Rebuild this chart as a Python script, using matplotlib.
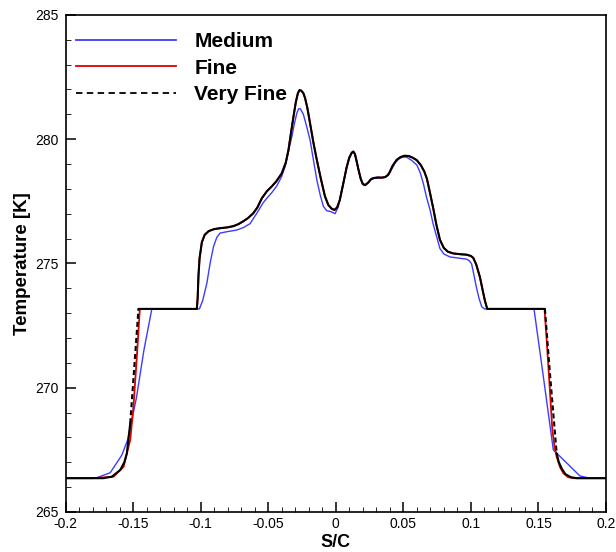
import numpy as np
import matplotlib
matplotlib.use("Agg")
import matplotlib.pyplot as plt
from matplotlib.lines import Line2D
from matplotlib.ticker import MultipleLocator, FixedLocator, FixedFormatter

plt.rcParams['font.family'] = ['Liberation Sans', 'DejaVu Sans']
plt.rcParams['lines.scale_dashes'] = False

# ---------------- data ----------------
series_labels = ["Medium", "Fine", "Very Fine"]

medium_x = [-0.200, -0.190, -0.1768, -0.1669, -0.1583, -0.1540, -0.1509, -0.1475, -0.1420, -0.1361,
            -0.1200, -0.1009, -0.0985, -0.0954, -0.0930, -0.0905, -0.0880, -0.0856, -0.0800, -0.0733,
            -0.0680, -0.0634, -0.0584, -0.0536, -0.0510, -0.0473, -0.0436, -0.0400, -0.0375, -0.0350,
            -0.0325, -0.0305, -0.0288, -0.0275, -0.0262, -0.0240, -0.0215, -0.0190, -0.0165, -0.0140,
            -0.0115, -0.0092, -0.0067, -0.0035, -0.0005, 0.0019, 0.0040, 0.0056, 0.0080, 0.0100,
            0.0118, 0.0130, 0.0142, 0.0155, 0.0167, 0.0185, 0.0200, 0.0217, 0.0240, 0.0260,
            0.0280, 0.0310, 0.0340, 0.0365, 0.0390, 0.0410, 0.0440, 0.0470, 0.0500, 0.0525,
            0.0560, 0.0600, 0.0625, 0.0648, 0.0670, 0.0698, 0.0720, 0.0747, 0.0771, 0.0800,
            0.0845, 0.0900, 0.0969, 0.0990, 0.1006, 0.1020, 0.1040, 0.1060, 0.1080, 0.1100,
            0.1300, 0.1467, 0.1540, 0.1610, 0.1807, 0.1880, 0.2000]
medium_T = [266.36, 266.36, 266.38, 266.58, 267.29, 267.90, 268.70, 269.60, 271.50, 273.17,
            273.17, 273.17, 273.50, 274.20, 275.00, 275.67, 276.05, 276.22, 276.28, 276.34,
            276.45, 276.60, 277.02, 277.45, 277.62, 277.85, 278.12, 278.50, 278.89, 279.50,
            280.10, 280.65, 281.04, 281.22, 281.22, 281.00, 280.50, 279.96, 279.15, 278.36,
            277.75, 277.30, 277.12, 277.08, 277.00, 277.28, 277.85, 278.22, 278.85, 279.25,
            279.45, 279.48, 279.38, 279.08, 278.78, 278.38, 278.18, 278.13, 278.25, 278.40,
            278.45, 278.47, 278.45, 278.47, 278.55, 278.75, 279.05, 279.22, 279.28, 279.27,
            279.15, 278.96, 278.65, 278.22, 277.70, 277.15, 276.60, 276.07, 275.60, 275.38,
            275.26, 275.22, 275.17, 275.10, 274.97, 274.60, 274.06, 273.60, 273.26, 273.17,
            273.17, 273.17, 270.30, 267.50, 266.45, 266.36, 266.36]

fine_x = [-0.200, -0.190, -0.180, -0.1645, -0.1570, -0.1521, -0.1497, -0.1472, -0.1450,
          -0.1300, -0.1150, -0.1028, -0.1022, -0.1016, -0.1008, -0.0991, -0.0970, -0.0940, -0.0900,
          -0.0850, -0.0800, -0.0757, -0.0720, -0.0683, -0.0650, -0.0610, -0.0580, -0.0547, -0.0510,
          -0.0473, -0.0440, -0.0400, -0.0370, -0.0350, -0.0330, -0.0313, -0.0295, -0.0280, -0.0268,
          -0.0255, -0.0240, -0.0227, -0.0210, -0.0190, -0.0165, -0.0140, -0.0110, -0.0080, -0.0055,
          -0.0030, -0.0010, 0.0010, 0.0030, 0.0056, 0.0080, 0.0100, 0.0118, 0.0130, 0.0142,
          0.0155, 0.0167, 0.0185, 0.0200, 0.0217, 0.0240, 0.0260, 0.0280, 0.0310, 0.0340,
          0.0365, 0.0385, 0.0400, 0.0420, 0.0450, 0.0480, 0.0510, 0.0540, 0.0570, 0.0600,
          0.0630, 0.0655, 0.0675, 0.0697, 0.0722, 0.0745, 0.0771, 0.0800, 0.0830, 0.0870,
          0.0920, 0.0969, 0.1000, 0.1018, 0.1040, 0.1067, 0.1090, 0.1104, 0.1121,
          0.1300, 0.1545, 0.1560, 0.1580, 0.1603, 0.1620, 0.1635, 0.1660, 0.1684, 0.1720,
          0.1760, 0.1900, 0.2000]
fine_T = [266.36, 266.36, 266.36, 266.42, 266.82, 267.90, 269.24, 271.25, 273.17,
          273.17, 273.17, 273.17, 273.60, 274.50, 275.20, 275.85, 276.15, 276.30, 276.38,
          276.42, 276.45, 276.50, 276.58, 276.70, 276.82, 277.02, 277.25, 277.62, 277.90,
          278.10, 278.30, 278.62, 279.05, 279.56, 280.30, 280.90, 281.50, 281.85, 281.97,
          281.95, 281.85, 281.65, 281.25, 280.63, 279.85, 279.16, 278.40, 277.70, 277.35,
          277.20, 277.15, 277.25, 277.55, 278.22, 278.85, 279.25, 279.45, 279.50, 279.40,
          279.10, 278.80, 278.40, 278.20, 278.15, 278.25, 278.38, 278.43, 278.45, 278.45,
          278.47, 278.55, 278.68, 278.92, 279.16, 279.28, 279.33, 279.32, 279.25, 279.15,
          278.95, 278.70, 278.40, 277.85, 277.20, 276.55, 275.95, 275.62, 275.47, 275.40,
          275.37, 275.35, 275.30, 275.22, 274.95, 274.45, 273.85, 273.50, 273.17,
          273.17, 273.17, 272.00, 270.30, 268.30, 267.60, 267.22, 266.80, 266.56, 266.40,
          266.36, 266.36, 266.36]

vfine_x = [-0.200, -0.190, -0.180, -0.172, -0.1657, -0.1595, -0.1565, -0.1546, -0.1521, -0.1460,
           -0.1400, -0.1300, -0.1200, -0.1100, -0.1028, -0.1022, -0.1016, -0.1008, -0.0991, -0.0970,
           -0.0940, -0.0900, -0.0850, -0.0800, -0.0757, -0.0720, -0.0683, -0.0650, -0.0610, -0.0580,
           -0.0547, -0.0510, -0.0473, -0.0440, -0.0400, -0.0370, -0.0350, -0.0330, -0.0313, -0.0295,
           -0.0280, -0.0268, -0.0255, -0.0240, -0.0227, -0.0210, -0.0190, -0.0165, -0.0140, -0.0110,
           -0.0080, -0.0055, -0.0030, -0.0010, 0.0010, 0.0030, 0.0056, 0.0080, 0.0100, 0.0118,
           0.0130, 0.0142, 0.0155, 0.0167, 0.0185, 0.0200, 0.0217, 0.0240, 0.0260, 0.0280,
           0.0310, 0.0340, 0.0365, 0.0385, 0.0400, 0.0420, 0.0450, 0.0480, 0.0510, 0.0540,
           0.0570, 0.0600, 0.0630, 0.0655, 0.0675, 0.0697, 0.0722, 0.0745, 0.0771, 0.0800,
           0.0830, 0.0870, 0.0920, 0.0969, 0.1000, 0.1018, 0.1040, 0.1067, 0.1090, 0.1104,
           0.1121, 0.1200, 0.1300, 0.1400, 0.1500, 0.1548, 0.1585, 0.1635, 0.1650, 0.1672,
           0.1700, 0.1740, 0.1783, 0.1850, 0.1920, 0.2000]
vfine_T = [266.36, 266.36, 266.36, 266.36, 266.42, 266.69, 267.00, 267.36, 268.57, 273.17,
           273.17, 273.17, 273.17, 273.17, 273.17, 273.60, 274.50, 275.20, 275.85, 276.15,
           276.30, 276.38, 276.42, 276.45, 276.50, 276.58, 276.70, 276.82, 277.02, 277.25,
           277.62, 277.90, 278.10, 278.30, 278.62, 279.05, 279.56, 280.30, 280.90, 281.50,
           281.85, 281.97, 281.95, 281.85, 281.65, 281.25, 280.63, 279.85, 279.16, 278.40,
           277.70, 277.35, 277.20, 277.15, 277.25, 277.55, 278.22, 278.85, 279.25, 279.45,
           279.50, 279.40, 279.10, 278.80, 278.40, 278.20, 278.15, 278.25, 278.38, 278.43,
           278.45, 278.45, 278.47, 278.55, 278.68, 278.92, 279.16, 279.28, 279.33, 279.32,
           279.25, 279.15, 278.95, 278.70, 278.40, 277.85, 277.20, 276.55, 275.95, 275.62,
           275.47, 275.40, 275.37, 275.35, 275.30, 275.22, 274.95, 274.45, 273.85, 273.50,
           273.17, 273.17, 273.17, 273.17, 273.17, 273.17, 270.58, 267.36, 267.02, 266.75,
           266.52, 266.40, 266.36, 266.36, 266.36, 266.36]

x_ticks = [-0.2, -0.15, -0.1, -0.05, 0.0, 0.05, 0.1, 0.15, 0.2]
x_ticklabels = ["-0.2", "-0.15", "-0.1", "-0.05", "0", "0.05", "0.1", "0.15", "0.2"]
y_ticks = [265, 270, 275, 280, 285]
y_ticklabels = ["265", "270", "275", "280", "285"]

# ---------------- figure ----------------
W, H = 616, 552
fig = plt.figure(figsize=(W / 100, H / 100), dpi=100)
ax = fig.add_axes([65.5 / W, 40 / H, (606 - 65.5) / W, (512 - 14.8) / H])
ax.set_xlim(-0.2, 0.2)
ax.set_ylim(265, 285)

c_med = "#3c3cff"
c_fine = "#dd0000"
c_vf = "black"
dash_plot = (0, (3.6, 2.2))
dash_leg = (0, (4.6, 3.2))

ax.plot(medium_x, medium_T, color=c_med, lw=1.0, zorder=3)
ax.plot(fine_x, fine_T, color=c_fine, lw=1.3, zorder=4)

# Very Fine: dashed pattern restarts on every data segment (as in the source
# plotting program), so only long segments show gaps.
fig.canvas.draw()
pts = ax.transData.transform(np.column_stack([vfine_x, vfine_T]))
seglen = np.hypot(np.diff(pts[:, 0]), np.diff(pts[:, 1]))
run = [0]
for i, L in enumerate(seglen):
    if L > 40:
        if len(run) > 1:
            ax.plot([vfine_x[j] for j in run], [vfine_T[j] for j in run],
                    color=c_vf, lw=1.5, zorder=5, solid_capstyle='round')
        ax.plot([vfine_x[i], vfine_x[i + 1]], [vfine_T[i], vfine_T[i + 1]],
                color=c_vf, lw=1.5, zorder=5, linestyle=dash_plot)
        run = [i + 1]
    else:
        run.append(i + 1)
if len(run) > 1:
    ax.plot([vfine_x[j] for j in run], [vfine_T[j] for j in run],
            color=c_vf, lw=1.5, zorder=5, solid_capstyle='round')

# axes styling
ax.xaxis.set_major_locator(FixedLocator(x_ticks))
ax.xaxis.set_major_formatter(FixedFormatter(x_ticklabels))
ax.xaxis.set_minor_locator(MultipleLocator(0.01))
ax.yaxis.set_major_locator(FixedLocator(y_ticks))
ax.yaxis.set_major_formatter(FixedFormatter(y_ticklabels))
ax.yaxis.set_minor_locator(MultipleLocator(1))
ax.tick_params(which='both', direction='in', top=False, right=False, labelsize=10)
ax.tick_params(axis='x', which='both', pad=3.5)
ax.tick_params(axis='y', which='both', pad=5)
ax.tick_params(which='major', length=7.2, width=1.1)
ax.tick_params(which='minor', length=3.8, width=0.6)
for s in ax.spines.values():
    s.set_linewidth(1.2)

ax.set_xlabel("S/C", fontsize=13, fontweight='bold', labelpad=2)
ax.set_ylabel("Temperature [K]", fontsize=13.5, fontweight='bold', labelpad=3)

handles = [Line2D([], [], color=c_med, lw=1.3),
           Line2D([], [], color=c_fine, lw=1.3),
           Line2D([], [], color=c_vf, lw=1.3, linestyle=dash_leg)]
leg = ax.legend(handles, series_labels, loc='upper left', bbox_to_anchor=(10.5 / 540.5, 1 - 17.5 / 497.2),
                frameon=False, borderpad=0, borderaxespad=0, handlelength=4.8, handletextpad=0.87,
                labelspacing=0.35, prop={'family': 'Liberation Sans', 'weight': 'bold', 'size': 15})

fig.savefig("out.png", dpi=100)
